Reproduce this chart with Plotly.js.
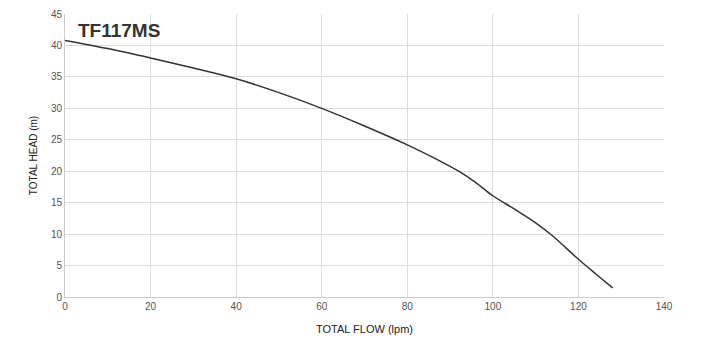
<!DOCTYPE html>
<html><head><meta charset="utf-8">
<script src="https://cdn.plot.ly/plotly-3.0.1.min.js"></script>
<style>html,body{margin:0;padding:0;background:#fff}#chart{width:721px;height:355px}</style>
</head><body><div id="chart"></div>
<script>
const flow = [0, 10, 20, 30, 40, 50, 60, 70, 80, 86, 92, 96, 100, 105, 110, 114, 120, 124, 128];
const head = [40.8, 39.5, 38.0, 36.4, 34.7, 32.5, 30.0, 27.2, 24.2, 22.2, 20.0, 18.2, 16.1, 14.0, 11.8, 9.7, 6.0, 3.7, 1.45];
const chartTitle = "TF117MS";
const xTitle = "TOTAL FLOW (lpm)";
const yTitle = "TOTAL HEAD (m)";

Plotly.newPlot('chart', [{
  x: flow, y: head, type: 'scatter', mode: 'lines',
  line: {color: '#333333', width: 1.5, shape: 'spline', smoothing: 0.9},
  hoverinfo: 'skip'
}], {
  width: 721, height: 355,
  margin: {l: 65, r: 57, t: 14, b: 58},
  paper_bgcolor: '#fff', plot_bgcolor: '#fff',
  showlegend: false,
  font: {family: 'Liberation Sans, Arial, sans-serif', color: '#555'},
  xaxis: {
    range: [0, 140], dtick: 20, tick0: 0,
    showgrid: true, gridcolor: '#dddddd', gridwidth: 1,
    zeroline: false, showline: true, linecolor: '#cccccc', linewidth: 1, mirror: false,
    ticks: '', tickfont: {size: 10, color: '#555'},
    title: {text: xTitle, font: {size: 11, color: '#222'}, standoff: 14}
  },
  yaxis: {
    range: [0, 45], dtick: 5, tick0: 0,
    showgrid: true, gridcolor: '#dddddd', gridwidth: 1,
    zeroline: false, showline: true, linecolor: '#cccccc', linewidth: 1,
    ticks: '', tickfont: {size: 10, color: '#555'},
    title: {text: yTitle, font: {size: 10, color: '#222'}, standoff: 11}
  },
  annotations: [{
    text: '<b>' + chartTitle + '</b>', xref: 'paper', yref: 'paper',
    x: 0.019, y: 0.985, xanchor: 'left', yanchor: 'top', showarrow: false,
    font: {size: 19, color: '#333', family: 'Liberation Sans, Arial, sans-serif'}
  }]
}, {staticPlot: true});
</script></body></html>
